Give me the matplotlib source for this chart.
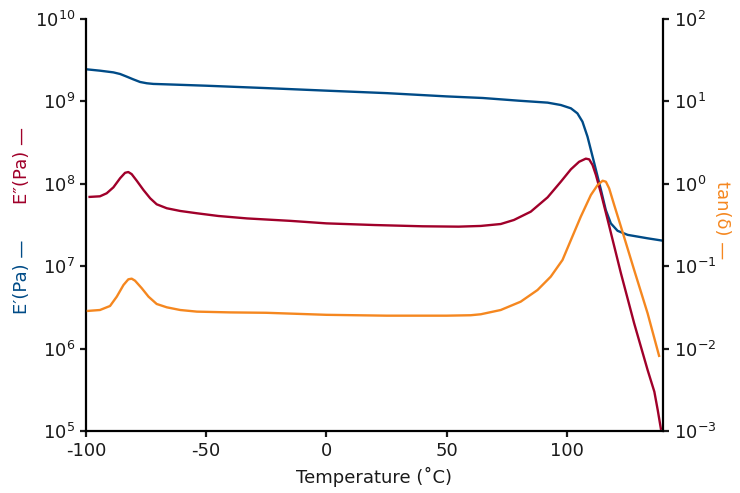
import matplotlib
matplotlib.use("Agg")
import matplotlib.pyplot as plt
from matplotlib.ticker import LogLocator, FixedLocator, NullLocator

plt.rcParams['font.family'] = ['DejaVu Sans']
plt.rcParams['axes.unicode_minus'] = False

# Storage modulus E' (Pa)
t_storage = [-99.7, -94.2, -88.6, -85.8, -83.1, -80.3, -77.5, -74.7, -72, -66.4,
             -50, -25, 0, 25, 50, 65, 80, 92, 97.5, 101.7, 104.4, 106.5, 108.6,
             111.4, 114.2, 116.2, 118.3, 121.1, 125.3, 133.6, 139.9]
e_storage = [2.45e9, 2.36e9, 2.25e9, 2.15e9, 2.00e9, 1.85e9, 1.72e9, 1.66e9, 1.63e9,
             1.61e9, 1.55e9, 1.45e9, 1.35e9, 1.26e9, 1.15e9, 1.10e9, 1.02e9, 9.66e8,
             9.04e8, 8.24e8, 7.16e8, 5.68e8, 3.73e8, 1.78e8, 8.41e7, 4.81e7, 3.31e7,
             2.69e7, 2.40e7, 2.18e7, 2.04e7]

# Loss modulus E'' (Pa)
t_loss = [-99.0, -94.2, -91.4, -88.6, -85.8, -83.75, -82.4, -81.0, -78.9, -76.1,
          -73.3, -70.6, -66.4, -60.8, -53.9, -45, -33, -15, 0, 20, 40, 55,
          64.2, 72.5, 78.0, 85.0, 92.0, 97.5, 101.7, 105.1, 107.9, 109.3, 110.7,
          112.1, 114.2, 117.0, 122.5, 128.0, 133.6, 136.4, 137.8, 139.2]
e_loss = [6.92e7, 7.05e7, 7.67e7, 9.06e7, 1.17e8, 1.36e8, 1.39e8, 1.31e8, 1.09e8,
          8.41e7, 6.67e7, 5.64e7, 5.05e7, 4.68e7, 4.39e7, 4.07e7, 3.80e7, 3.55e7,
          3.31e7, 3.16e7, 3.05e7, 3.02e7,
          3.08e7, 3.25e7, 3.64e7, 4.59e7, 6.85e7, 1.06e8, 1.50e8, 1.85e8, 2.02e8,
          1.98e8, 1.69e8, 1.28e8, 7.67e7, 3.64e7, 8.20e6, 2.03e6, 5.50e5, 3.00e5,
          1.80e5, 1.03e5]

# tan(delta)
t_tan = [-99.7, -94.2, -90.0, -87.2, -84.4, -82.4, -81.0, -79.6, -76.8, -74.0,
         -70.6, -66.4, -60.8, -53.9, -40, -25, 0, 25, 50, 60,
         64.2, 72.5, 80.8, 87.8, 93.3, 98.2, 101.7, 105.8, 110.0, 112.8, 114.9,
         116.25, 117.6, 119.7, 122.5, 128.0, 133.6, 138.5]
tan_delta = [0.0286, 0.0294, 0.0329, 0.0427, 0.0592, 0.0693, 0.0706, 0.0667, 0.0540,
             0.0427, 0.0348, 0.0317, 0.0294, 0.0281, 0.0275, 0.0272, 0.0257, 0.0251,
             0.0251, 0.0254,
             0.0261, 0.0294, 0.0371, 0.0514, 0.0746, 0.119, 0.208, 0.399, 0.731,
             0.966, 1.09, 1.06, 0.881, 0.553, 0.302, 0.0900, 0.0268, 0.00791]

x_ticks = [-100, -50, 0, 50, 100]

BLUE = '#004B87'
RED = '#A0002A'
ORANGE = '#F5871F'

fig = plt.figure(figsize=(7.4, 4.93), dpi=100)
ax = fig.add_axes([86/740, 1-431/493, (663-86)/740, (431-19)/493])
ax2 = ax.twinx()

kw = dict(lw=1.7, solid_joinstyle='round', solid_capstyle='butt')
ax.plot(t_storage, e_storage, color=BLUE, **kw)
ax.plot(t_loss, e_loss, color=RED, **kw)
ax2.plot(t_tan, tan_delta, color=ORANGE, **kw)

ax.set_yscale('log')
ax2.set_yscale('log')
ax.set_xlim(-100, 140)
ax.set_ylim(1e5, 1e10)
ax2.set_ylim(1e-3, 1e2)
ax.xaxis.set_major_locator(FixedLocator(x_ticks))
ax.yaxis.set_major_locator(LogLocator(base=10, numticks=10))
ax2.yaxis.set_major_locator(LogLocator(base=10, numticks=10))
ax.yaxis.set_minor_locator(NullLocator())
ax2.yaxis.set_minor_locator(NullLocator())

for a in (ax, ax2):
    a.spines['top'].set_visible(False)
    for s in ('left', 'right', 'bottom'):
        a.spines[s].set_linewidth(1.6)
    a.tick_params(which='major', direction='out', length=4.5, width=1.6,
                  labelsize=13, colors='#1a1a1a')
ax.spines['right'].set_visible(False)
ax2.spines['left'].set_visible(False)
ax2.spines['bottom'].set_visible(False)

ax.set_xlabel('Temperature (˚C)', fontsize=13, labelpad=5, color='#1a1a1a')

fig.text(22/740, 1-277/493, 'E′(Pa) —', color=BLUE, rotation=90,
         ha='center', va='center', fontsize=13)
fig.text(22/740, 1-165/493, 'E″(Pa) —', color=RED, rotation=90,
         ha='center', va='center', fontsize=13)
fig.text(722/740, 1-220/493, 'tan(δ) —', color=ORANGE, rotation=270,
         ha='center', va='center', fontsize=13)

fig.savefig('out.png', dpi=100)
